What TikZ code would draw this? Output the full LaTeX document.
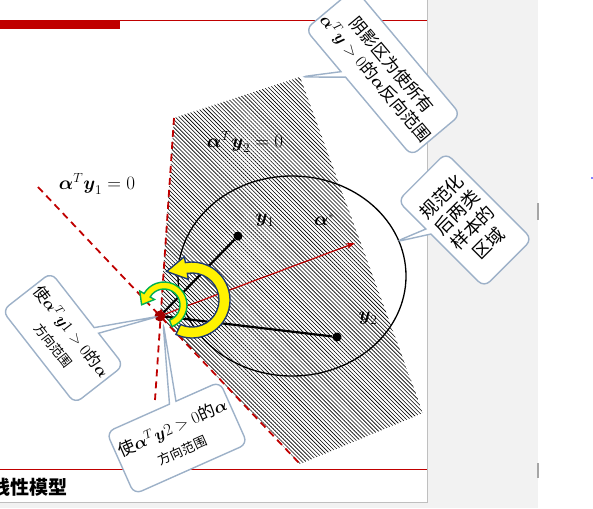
\RequirePackage{fix-cm}
\documentclass[tikz,border=0pt]{standalone}
\usepackage{amsmath,amssymb}
\usepackage{fontspec}
\usepackage{tikz}
\usetikzlibrary{patterns.meta,shapes.callouts,calc,arrows.meta}
\newfontfamily\cjk{Noto Sans CJK SC}
\newcommand{\valpha}{\boldsymbol{\alpha}}
\newcommand{\vy}{\boldsymbol{y}}
\definecolor{slidered}{HTML}{C00000}
\definecolor{calloutgray}{HTML}{9DB1C8}
\definecolor{arrowblue}{HTML}{1F3A70}
\definecolor{arrowgreen}{HTML}{00B050}
\definecolor{panelgray}{HTML}{F2F2F2}
\tikzset{
  boundary/.style={slidered,line width=1.8pt,dash pattern=on 7pt off 5pt},
  sample/.style={circle,fill=black,inner sep=0pt,minimum size=9pt},
  bubble/.style={rectangle callout,draw=calloutgray,line width=1.4pt,fill=white,
    rounded corners=8pt,align=center,inner sep=2pt,
    font=\cjk\fontsize{17}{21}\selectfont},
  mathlabel/.style={font=\fontsize{19}{22}\selectfont,inner sep=0pt},
  bentarrow/.style={fill=yellow,line width=1.4pt},
}

\begin{document}
\begin{tikzpicture}[x=1pt,y=-1pt]
  \clip (0,0) rectangle (593,508);
  % slide frame
  \fill[panelgray] (427,0) rectangle (538,508);
  \fill[panelgray] (0,502) rectangle (427,508);
  \draw[gray!50] (427.5,0) -- (427.5,502) -- (0,502);
  \draw[gray!70,line width=1.5pt] (538,203) -- (538,220) (538,463) -- (538,478);
  \fill[blue] (592,178) circle (0.8);
  \fill[slidered] (0,20) rectangle (120,29);
  \draw[slidered,line width=1pt] (120,20.5) -- (427,20.5);
  \draw[slidered,line width=1pt] (0,469) -- (427,469);
  \node[font=\cjk\bfseries\fontsize{19}{22}\selectfont,anchor=west,inner sep=0pt] (title) at (-9,487) {线性模型};

  % points
  \coordinate (origin) at (160,316);
  \coordinate (hatchtop) at (300,77);
  \coordinate (ringpt) at (395,242);
  \coordinate (alphatip) at (355,243);
  \coordinate (b1start) at (38,187);
  \coordinate (b1end) at (300,464);
  \coordinate (b2start) at (174,118);
  \coordinate (b2end) at (155,400);

  % shaded region
  \fill[pattern={Lines[angle=-45,distance=2.8pt,line width=0.6pt]}]
    (b2start) -- (hatchtop) -- (423,413) -- (b1end) -- (origin) -- cycle;
  \draw[boundary] (b1start) -- (b1end);
  \draw[boundary] (b2start) -- (b2end);

  % normalized samples
  \draw[line width=1.3pt] (292,276) ellipse [x radius=114, y radius=100];
  \node[sample] (p1) at (238,236) {};
  \node[sample] (p2) at (337,337) {};
  \draw[line width=2.2pt] (origin) -- (p1);
  \draw[line width=2.2pt] (origin) -- (p2);
  \draw[slidered,line width=1.2pt,-{Stealth[length=9pt,width=6pt]}] (origin) -- (alphatip);

  \node[mathlabel] (lab2) at (245,142) {$\valpha^T\vy_2=0$};
  \node[mathlabel] (lab1) at (97,184) {$\valpha^T\vy_1=0$};
  \node[mathlabel] (ly1) at (265,220) {$\vy_1$};
  \node[mathlabel] (ly2) at (368,318) {$\vy_2$};
  \node[mathlabel] (la) at (324,220) {$\valpha^{\scriptscriptstyle *}$};

  % turning arrows
  \coordinate (smallc) at (164,305);
  \filldraw[bentarrow,draw=arrowgreen]
    ($(smallc)+(70:23)$) arc[start angle=70,end angle=-150,radius=23]
    -- ($(smallc)+(-150:28)$) -- ($(smallc)+(-150:19.5)+(120:11)$)
    -- ($(smallc)+(-150:11)$) -- ($(smallc)+(-150:16)$)
    arc[start angle=-150,end angle=70,radius=16] -- cycle;
  \coordinate (bigc) at (192,300);
  \filldraw[bentarrow,draw=arrowblue]
    ($(bigc)+(115:38)$) arc[start angle=115,end angle=-100,radius=38]
    -- ($(bigc)+(-100:44)$) -- ($(bigc)+(-100:32.5)+(170:20)$)
    -- ($(bigc)+(-100:21)$) -- ($(bigc)+(-100:27)$)
    arc[start angle=-100,end angle=115,radius=27] -- cycle;
  \fill[slidered!85!black] (origin) circle (5.5);

  % callouts
  \node[bubble,rotate=-50,minimum width=165pt,minimum height=64pt,
    font=\cjk\fontsize{17}{21}\selectfont,
    callout absolute pointer={(hatchtop)}] (note1) at (383,72)
    {阴影区为使所有\\$\valpha^T\vy>0$的$\valpha$反向范围};
  \node[bubble,rotate=45,minimum width=68pt,minimum height=122pt,
    font=\cjk\fontsize{18}{22}\selectfont,
    callout absolute pointer={(ringpt)}] (note2) at (465,220)
    {规范化\\后两类\\样本的\\区域};
  \node[bubble,rotate=-52,minimum width=118pt,minimum height=62pt,
    font=\cjk\fontsize{16}{20}\selectfont,
    callout absolute pointer={(origin)}] (note3) at (63,338)
    {使$\valpha^T\vy1>0$的$\valpha$\\[2pt]{\fontsize{13}{15}\selectfont 方向范围}};
  \node[bubble,rotate=24,minimum width=124pt,minimum height=68pt,
    callout absolute pointer={($(origin)+(3,6)$)}] (note4) at (177,438)
    {使$\valpha^T\vy2>0$的$\valpha$\\[3pt]{\fontsize{13}{15}\selectfont 方向范围}};
\end{tikzpicture}
\end{document}
